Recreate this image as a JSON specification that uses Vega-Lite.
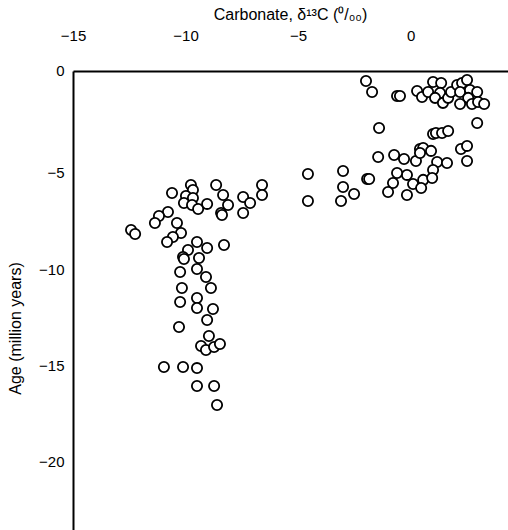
{
  "$schema": "https://vega.github.io/schema/vega-lite/v6.json",
  "width": 435,
  "height": 459,
  "autosize": {"type": "none"},
  "padding": {"left": 73, "top": 71, "right": 0, "bottom": 0},
  "background": "white",
  "config": {
    "view": {"stroke": null},
    "font": "Liberation Sans",
    "axis": {"grid": false, "ticks": false, "tickSize": 0, "domainColor": "black", "domainWidth": 2, "labelColor": "black", "titleColor": "black", "labelFont": "Liberation Sans", "titleFont": "Liberation Sans", "labelFontSize": 15, "titleFontSize": 16, "titleFontWeight": "normal"}
  },
  "data": {"values": [
    {"d13C": -1.98, "age": -0.21}, {"d13C": -1.71, "age": -0.78}, {"d13C": -0.6, "age": -0.99}, {"d13C": -0.47, "age": -0.99},
    {"d13C": 0.29, "age": -0.73}, {"d13C": 0.51, "age": -1.04}, {"d13C": 0.78, "age": -0.78}, {"d13C": 1.0, "age": -0.26},
    {"d13C": 1.36, "age": -0.31}, {"d13C": 1.31, "age": -0.83}, {"d13C": 1.09, "age": -1.09}, {"d13C": 1.44, "age": -1.35},
    {"d13C": 1.67, "age": -1.09}, {"d13C": 1.8, "age": -0.78}, {"d13C": 2.07, "age": -0.42}, {"d13C": 2.29, "age": -0.31},
    {"d13C": 2.51, "age": -0.16}, {"d13C": 2.2, "age": -0.78}, {"d13C": 2.64, "age": -0.68}, {"d13C": 2.96, "age": -0.78},
    {"d13C": 2.56, "age": -1.09}, {"d13C": 2.2, "age": -1.41}, {"d13C": 2.73, "age": -1.41}, {"d13C": 3.0, "age": -1.3},
    {"d13C": 3.27, "age": -1.41}, {"d13C": 2.96, "age": -2.4},
    {"d13C": -1.4, "age": -2.66}, {"d13C": 1.0, "age": -2.97}, {"d13C": 1.13, "age": -2.92}, {"d13C": 1.4, "age": -2.92},
    {"d13C": 1.67, "age": -2.81}, {"d13C": 2.24, "age": -3.75}, {"d13C": 2.51, "age": -3.59}, {"d13C": 2.51, "age": -4.38},
    {"d13C": -1.44, "age": -4.17}, {"d13C": -0.73, "age": -4.06}, {"d13C": -0.29, "age": -4.27}, {"d13C": 0.24, "age": -4.38},
    {"d13C": 0.42, "age": -3.75}, {"d13C": 0.56, "age": -3.7}, {"d13C": 0.42, "age": -3.96}, {"d13C": 0.91, "age": -3.85},
    {"d13C": 1.18, "age": -4.43}, {"d13C": 1.62, "age": -4.48}, {"d13C": 1.0, "age": -4.84}, {"d13C": -0.16, "age": -5.1},
    {"d13C": -0.6, "age": -5.0}, {"d13C": 0.56, "age": -5.36}, {"d13C": 0.96, "age": -5.26}, {"d13C": 0.11, "age": -5.57},
    {"d13C": 0.47, "age": -5.78}, {"d13C": -0.78, "age": -5.52}, {"d13C": -1.0, "age": -5.99}, {"d13C": -0.16, "age": -6.15},
    {"d13C": -4.56, "age": -5.05}, {"d13C": -4.56, "age": -6.46}, {"d13C": -3.0, "age": -4.9}, {"d13C": -3.0, "age": -5.73},
    {"d13C": -2.51, "age": -6.09}, {"d13C": -3.09, "age": -6.46}, {"d13C": -1.93, "age": -5.31}, {"d13C": -1.84, "age": -5.31},
    {"d13C": -6.6, "age": -5.63}, {"d13C": -6.6, "age": -6.15}, {"d13C": -7.44, "age": -6.25}, {"d13C": -7.13, "age": -6.56},
    {"d13C": -7.44, "age": -7.08}, {"d13C": -8.64, "age": -5.63}, {"d13C": -8.33, "age": -6.15}, {"d13C": -8.11, "age": -6.67},
    {"d13C": -8.42, "age": -7.08}, {"d13C": -8.38, "age": -7.19}, {"d13C": -9.76, "age": -5.63}, {"d13C": -9.67, "age": -5.89},
    {"d13C": -10.6, "age": -6.04}, {"d13C": -9.98, "age": -6.2}, {"d13C": -9.67, "age": -6.3}, {"d13C": -10.07, "age": -6.56},
    {"d13C": -9.71, "age": -6.67}, {"d13C": -9.44, "age": -6.88}, {"d13C": -9.04, "age": -6.61}, {"d13C": -10.78, "age": -7.03},
    {"d13C": -11.18, "age": -7.24}, {"d13C": -11.36, "age": -7.6}, {"d13C": -10.38, "age": -7.6}, {"d13C": -10.2, "age": -8.13},
    {"d13C": -12.42, "age": -7.97}, {"d13C": -12.24, "age": -8.18}, {"d13C": -10.56, "age": -8.33}, {"d13C": -10.82, "age": -8.59},
    {"d13C": -9.49, "age": -8.59}, {"d13C": -9.89, "age": -9.01}, {"d13C": -9.04, "age": -8.91}, {"d13C": -8.29, "age": -8.75},
    {"d13C": -10.11, "age": -9.38}, {"d13C": -10.07, "age": -9.48}, {"d13C": -9.4, "age": -9.43}, {"d13C": -10.24, "age": -10.16},
    {"d13C": -9.49, "age": -10.0}, {"d13C": -9.09, "age": -10.42}, {"d13C": -10.16, "age": -10.99}, {"d13C": -8.87, "age": -10.99},
    {"d13C": -10.24, "age": -11.72}, {"d13C": -9.49, "age": -11.51}, {"d13C": -9.49, "age": -12.03}, {"d13C": -8.78, "age": -12.08},
    {"d13C": -9.04, "age": -12.66}, {"d13C": -10.29, "age": -13.02}, {"d13C": -8.96, "age": -13.49}, {"d13C": -9.31, "age": -14.01},
    {"d13C": -9.09, "age": -14.22}, {"d13C": -8.73, "age": -14.06}, {"d13C": -8.47, "age": -13.91}, {"d13C": -10.96, "age": -15.1},
    {"d13C": -10.11, "age": -15.1}, {"d13C": -9.49, "age": -15.16}, {"d13C": -9.49, "age": -16.09}, {"d13C": -8.73, "age": -16.09},
    {"d13C": -8.6, "age": -17.08}
  ]},
  "mark": {"type": "point", "shape": "circle", "filled": false, "size": 105, "stroke": "black", "strokeWidth": 1.8, "opacity": 1, "fill": "white", "fillOpacity": 1},
  "encoding": {
    "x": {
      "field": "d13C", "type": "quantitative",
      "scale": {"domain": [-15, 4.33], "nice": false, "zero": false},
      "axis": {"orient": "top", "values": [-15, -10, -5, 0], "labelPadding": 28, "labelFlush": false,
        "title": "Carbonate, δ¹³C (⁰/₀₀)", "titleX": 217, "titleY": -57, "titleBaseline": "middle", "titleAnchor": "middle"}
    },
    "y": {
      "field": "age", "type": "quantitative",
      "scale": {"domain": [-23.59, 0.31], "nice": false, "zero": false},
      "axis": {"orient": "left", "values": [0, -5, -10, -15, -20], "labelPadding": 9, "labelFlush": false,
        "labelOffset": {"condition": {"test": "datum.value == 0", "value": -6}, "value": 0},
        "title": "Age (million years)", "titleX": -50, "titleY": 257, "titleAngle": -90, "titleBaseline": "bottom", "titleAnchor": "middle"}
    }
  }
}
